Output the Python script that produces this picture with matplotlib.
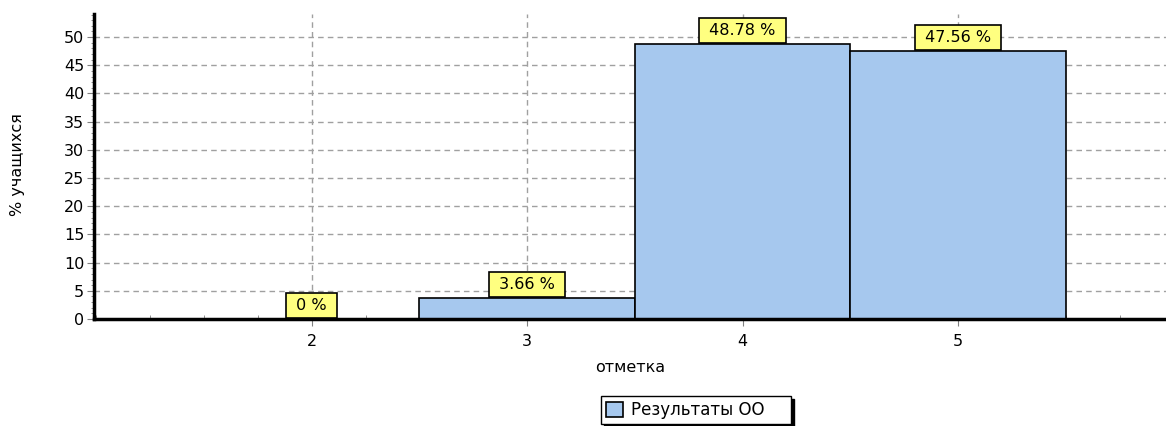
import numpy as np
import matplotlib
matplotlib.use("Agg")
from matplotlib import pyplot as plt
from matplotlib.ticker import MultipleLocator

# data
marks = [2, 3, 4, 5]
percents = [0.0, 3.66, 48.78, 47.56]
labels = ["0 %", "3.66 %", "48.78 %", "47.56 %"]
series_name = "Результаты ОО"

plt.rcParams['font.family'] = ['DejaVu Sans']

fig = plt.figure(figsize=(11.66, 4.26), dpi=100)
ax = fig.add_axes([94 / 1166, 107 / 426, 1072 / 1166, 305 / 426])

bars = ax.bar(marks, percents, width=1.0, color='#A6C8EE', edgecolor='black',
              linewidth=1.2, label=series_name, zorder=3)

ax.set_xlim(0.99, 5.965)
ax.set_ylim(0, 54.1)

ax.set_xticks(marks)
ax.xaxis.set_minor_locator(MultipleLocator(0.25))
ax.yaxis.set_major_locator(MultipleLocator(5))
ax.yaxis.set_minor_locator(MultipleLocator(1))
ax.tick_params(axis='x', which='major', direction='out', length=5, color='#808080',
               labelsize=11.5, pad=6)
ax.tick_params(axis='x', which='minor', direction='in', length=3, color='#808080')
ax.tick_params(axis='y', which='major', direction='out', length=5, color='#808080',
               labelsize=11.5, pad=2)
ax.tick_params(axis='y', which='minor', direction='out', length=2, color='#808080')

ax.grid(True, which='major', linestyle=(0, (4, 3)), color='#A0A0A0', linewidth=1, zorder=0)

for side in ['top', 'right']:
    ax.spines[side].set_visible(False)
ax.spines['left'].set_linewidth(2.5)
ax.spines['bottom'].set_linewidth(2.5)
ax.spines['left'].set_zorder(4)
ax.spines['bottom'].set_zorder(4)

# yellow value boxes sitting on the bar tops
for x, y, txt in zip(marks, percents, labels):
    ax.annotate(" " + txt + " ", xy=(x, y), xytext=(0, 4.5), textcoords='offset points',
                ha='center', va='bottom', fontsize=11.5, zorder=5,
                bbox=dict(boxstyle='square,pad=0.32', facecolor='#FFFF80',
                          edgecolor='black', linewidth=1.2))

ax.set_xlabel("отметка", fontsize=11.5, labelpad=8)
fig.text(18 / 1166, 1 - 165 / 426, "% учащихся", rotation=90, fontsize=11.5,
         ha='center', va='center')

leg = fig.legend(handles=[bars], labels=[series_name + "    "], loc='center',
                 bbox_to_anchor=(696 / 1166, 1 - 410 / 426), fontsize=12,
                 frameon=True, fancybox=False,
                 shadow={'color': 'black', 'alpha': 1.0},
                 handlelength=1.0, handleheight=1.0, borderpad=0.3, handletextpad=0.5)
leg.get_frame().set_edgecolor('black')
leg.get_frame().set_linewidth(1.0)

fig.savefig("out.png", dpi=100)
